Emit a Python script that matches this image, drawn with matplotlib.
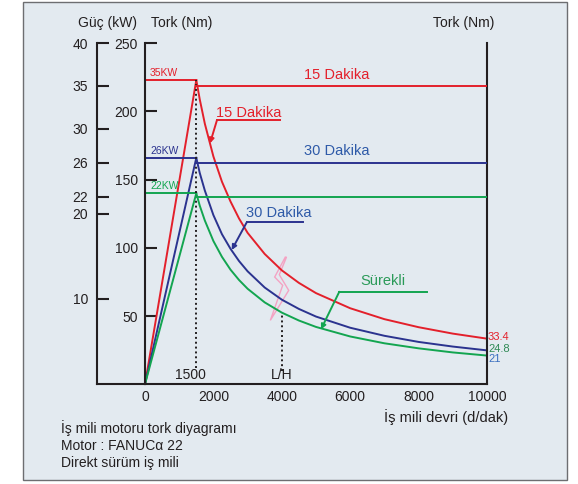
import matplotlib
matplotlib.use('Agg')
from matplotlib import pyplot as plt
from matplotlib.patches import Rectangle, Polygon

plt.rcParams['font.family'] = ['Liberation Sans', 'DejaVu Sans']

# spindle speed (d/dak) and torque (Nm)
speed = [1500, 1600, 1750, 2000, 2250, 2500, 2750, 3000, 3500, 4000, 4500,
         5000, 6000, 7000, 8000, 9000, 10000]
torque_15 = [223, 209, 191, 167, 148.5, 134, 121.5, 111, 95.5, 83.5, 74.3,
             66.8, 55.7, 47.7, 41.8, 37.1, 33.4]
torque_30 = [166, 155, 142, 124, 110, 99.3, 90.3, 82.8, 70.9, 62, 55.2,
             49.6, 41.4, 35.5, 31, 27.6, 24.8]
torque_cont = [140, 131, 120, 105, 93.4, 84, 76.4, 70, 60, 52.5, 46.7,
               42, 35, 30, 26.3, 23.3, 21]

power_kw = [35, 26, 22]
power_tags = ['35KW', '26KW', '22KW']
base_speed = 1500
lh_speed = 4000
end_tags = ['33.4', '24.8', '21']

power_ticks = [10, 20, 22, 26, 30, 35, 40]
torque_ticks = [50, 100, 150, 200, 250]
speed_ticks = [0, 2000, 4000, 6000, 8000, 10000]

bolt = [(4102, 93.2), (3792, 78.6), (4026, 72.5), (3664, 46.8),
        (4202, 68.8), (3927, 80.3), (4137, 93.2)]

red = '#e3202b'
blue = '#2b338f'
green = '#13a550'
line_colors = [red, blue, green]
ink = '#231f20'

W, H = 578, 484


def fx(px):
    return px / W


def fy(py):
    return 1 - py / H


fig = plt.figure(figsize=(W / 100, H / 100), dpi=100)
fig.patch.set_facecolor('white')
fig.patches.append(Rectangle((fx(23), fy(480)), fx(567) - fx(23), fy(1.5) - fy(480),
                             transform=fig.transFigure, facecolor='#e3eaf0',
                             edgecolor='#6d6e71', lw=1, zorder=-10))

ax = fig.add_axes([fx(145), fy(384.2), fx(487) - fx(145), fy(43.3) - fy(384.2)])
ax.set_facecolor('none')
ax.set_xlim(0, 10000)
ax.set_ylim(0, 250)

axp = ax.twinx()
axp.set_ylim(0, 40)

# torque curves: flat up to base speed, then falling
curves = [torque_15, torque_30, torque_cont]
for tq, c in zip(curves, line_colors):
    ax.plot([0, base_speed], [tq[0], tq[0]], color=c, lw=1.4)
    ax.plot([0, base_speed], [0, tq[0]], color=c, lw=1.4)
    ax.plot(speed, tq, color=c, lw=1.4)

# power lines
for p, c in zip(power_kw, line_colors):
    axp.plot([base_speed, 10000], [p, p], color=c, lw=1.4)

for tq, tag, c in zip(curves, power_tags, line_colors):
    ax.text(150, tq[0] + 1.5, tag, color=c, fontsize=7.5, ha='left', va='bottom')

axp.text(5600, 35.5, '15 Dakika', color=red, fontsize=10.5, ha='center', va='bottom')
axp.text(5600, 26.5, '30 Dakika', color='#2e5aa8', fontsize=10.5, ha='center', va='bottom')

# dotted markers
ax.plot([base_speed, base_speed], [12, torque_15[0]], color=ink, ls=(0, (1, 1.5)), lw=1.4)
ax.plot([lh_speed, lh_speed], [10, torque_cont[speed.index(lh_speed)]],
        color=ink, ls=(0, (1, 1.5)), lw=1.4)
ax.text(1330, 7, '1500', fontsize=10, ha='center', va='center', color=ink)
ax.text(lh_speed, 7, 'L/H', fontsize=10, ha='center', va='center', color=ink)

ax.add_patch(Polygon(bolt, closed=True, fill=False, edgecolor='#f4a3c3', lw=1))

# callouts
arrow = dict(arrowstyle='-|>', mutation_scale=7, shrinkA=0, shrinkB=0, lw=1.4)
ax.plot([3947, 2105], [193.7, 193.7], color=red, lw=1.4)
ax.annotate('', xy=(1900, 176.6), xytext=(2105, 193.7),
            arrowprops=dict(arrow, color=red))
ax.text(3026, 198.8, '15 Dakika', color=red, fontsize=10.5, ha='center', va='center')

ax.plot([4629, 2974], [118.7, 118.7], color=blue, lw=1.4)
ax.annotate('', xy=(2535, 98.4), xytext=(2974, 118.7),
            arrowprops=dict(arrow, color=blue))
ax.text(3924, 125.5, '30 Dakika', color='#2e5aa8', fontsize=10.5, ha='center', va='center')

ax.plot([8237, 5681], [67.8, 67.8], color=green, lw=1.4)
ax.annotate('', xy=(5146, 40.2), xytext=(5681, 67.8),
            arrowprops=dict(arrow, color=green))
ax.text(6944, 75.9, 'Sürekli', color='#2a9a58', fontsize=10.5, ha='center', va='center')

# end values at right
for tag, y, c in zip(end_tags, [34.6, 25.8, 18.5], [red, '#2f8a55', '#3a6fc0']):
    ax.text(10030, y, tag, color=c, fontsize=8, ha='left', va='center')

# axes styling
ax.spines['top'].set_visible(False)
for s in ['left', 'right', 'bottom']:
    ax.spines[s].set_linewidth(1.5)
    ax.spines[s].set_color(ink)
ax.set_yticks(torque_ticks)
ax.set_xticks(speed_ticks)
ax.tick_params(axis='y', direction='in', length=8.5, width=1.5, pad=5,
               labelsize=10, colors=ink, right=False)
ax.tick_params(axis='x', length=0, pad=4, labelsize=10, colors=ink)
ax.plot([-0.1404, 0], [0, 0], transform=ax.transAxes, color=ink, lw=1.5,
        clip_on=False, solid_capstyle='projecting')

for s in ['top', 'right', 'bottom']:
    axp.spines[s].set_visible(False)
axp.spines['left'].set_visible(True)
axp.spines['left'].set_position(('outward', 48 * 0.72))
axp.spines['left'].set_linewidth(1.5)
axp.spines['left'].set_color(ink)
axp.yaxis.set_ticks_position('left')
axp.set_yticks(power_ticks)
axp.tick_params(axis='y', direction='in', length=8.5, width=1.5, pad=6.5,
                labelsize=10, colors=ink)

fig.text(fx(107), fy(22.7), 'Güç (kW)', fontsize=10, ha='center', va='center', color=ink)
fig.text(fx(181.5), fy(22.7), 'Tork (Nm)', fontsize=10, ha='center', va='center', color=ink)
fig.text(fx(464), fy(22.7), 'Tork (Nm)', fontsize=10, ha='center', va='center', color=ink)
fig.text(fx(446), fy(417), 'İş mili devri (d/dak)', fontsize=10.5, ha='center',
         va='center', color=ink)

notes = ['İş mili motoru tork diyagramı', 'Motor : FANUCα 22', 'Direkt sürüm iş mili']
for i, line in enumerate(notes):
    fig.text(fx(61), fy(428 + i * 17.6), line, fontsize=10, ha='left',
             va='center', color=ink)

fig.savefig('out.png', dpi=100)
